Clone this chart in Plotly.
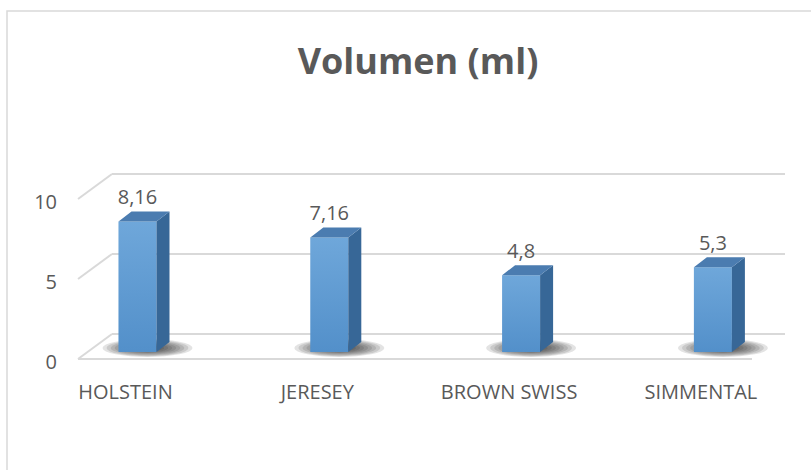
import plotly.graph_objects as go

# ---------------- data ----------------
categories = ["HOLSTEIN", "JERESEY", "BROWN SWISS", "SIMMENTAL"]
volumes = [8.16, 7.16, 4.8, 5.3]
value_labels = ["8,16", "7,16", "4,8", "5,3"]
y_ticks = [0, 5, 10]
title_text = "Volumen (ml)"

# ---------------- style / geometry constants (pixels) ----------------
W, H = 811, 470
L, R, T, B = 60, 0, 100, 50
CAT_PX0, CAT_STEP = 137.5, 191.8     # pixel of first bar centre, pixel per category
ZERO_PX, PX_PER_UNIT = 352, 16.0     # pixel of value 0 on bar plane
BAR_W_PX = 38
SIDE_DX, SIDE_DY = 13, 10            # bar depth (px)
BACK_DY = 18                         # bar plane -> back wall (px, upward)
FRONT_DY = 7                         # bar plane -> front edge (px, downward)
LABEL_SHIFT_PX = 12
TEXT = "#595959"
GRID = "#D9D9D9"
FONT = "Open Sans"

plot_w = W - L - R
plot_h = H - T - B


def px_x(p):
    return (p - CAT_PX0) / CAT_STEP


def px_y(p):
    return (ZERO_PX - p) / PX_PER_UNIT


def paper_x(p):
    return (p - L) / plot_w


def paper_y(p):
    return (H - B - p) / plot_h


x_range = [px_x(L), px_x(W - R)]
y_range = [px_y(H - B), px_y(T)]

dxu = lambda px: px / CAT_STEP
dyu = lambda px: px / PX_PER_UNIT

idx = list(range(len(categories)))
bw = dxu(BAR_W_PX)

shapes = []

# chart border
shapes.append(dict(type="rect", xref="paper", yref="paper",
                   x0=paper_x(7), x1=paper_x(840), y0=paper_y(490), y1=paper_y(11),
                   line=dict(color=GRID, width=1.5), fillcolor="rgba(0,0,0,0)", layer="below"))

# ---- walls / gridlines (from tick values) ----
back_x0, back_x1 = px_x(112), px_x(785)
front_x0, front_x1 = px_x(78), px_x(752)
for v in y_ticks:
    yb = v + dyu(BACK_DY)
    yf = v - dyu(FRONT_DY)
    shapes.append(dict(type="line", xref="x", yref="y", x0=front_x0, y0=yf, x1=back_x0, y1=yb,
                       line=dict(color=GRID, width=2), layer="below"))
    shapes.append(dict(type="line", xref="x", yref="y", x0=back_x0, y0=yb, x1=back_x1, y1=yb,
                       line=dict(color=GRID, width=2), layer="below"))
shapes.append(dict(type="line", xref="x", yref="y", x0=front_x0, y0=-dyu(FRONT_DY),
                   x1=front_x1, y1=-dyu(FRONT_DY), line=dict(color=GRID, width=2), layer="below"))

# ---- soft shadows at bar bases ----
n_layers = 9
for k in range(n_layers):
    s = 1.0 - 0.09 * k
    for i in idx:
        cx = i + dxu(10)
        cy = dyu(4)
        rx = dxu(45) * s
        ry = dyu(9) * s
        shapes.append(dict(type="circle", xref="x", yref="y",
                           x0=cx - rx, x1=cx + rx, y0=cy - ry, y1=cy + ry,
                           fillcolor="rgba(25,25,25,0.12)", line=dict(width=0), layer="below"))

fig = go.Figure()

# ---- bars: front faces ----
fig.add_trace(go.Bar(x=idx, y=volumes, width=bw,
                     marker=dict(color="#5B9BD5", line=dict(width=0)),
                     hoverinfo="skip", showlegend=False))

# subtle vertical shading on the front faces
for i, v in zip(idx, volumes):
    xl, xr = i - bw / 2, i + bw / 2
    fig.add_trace(go.Scatter(x=[xl, xr, xr, xl, xl], y=[0, 0, v, v, 0], mode="lines",
                             fill="toself", line=dict(width=0),
                             fillgradient=dict(type="vertical", start=0, stop=v,
                                               colorscale=[[0, "rgba(20,60,120,0.12)"],
                                                           [1, "rgba(255,255,255,0.12)"]]),
                             hoverinfo="skip", showlegend=False))

# ---- side faces ----
sx, sy = [], []
for i, v in zip(idx, volumes):
    xr = i + bw / 2
    sx += [xr, xr + dxu(SIDE_DX), xr + dxu(SIDE_DX), xr, xr, None]
    sy += [0, dyu(SIDE_DY), v + dyu(SIDE_DY), v, 0, None]
fig.add_trace(go.Scatter(x=sx, y=sy, mode="lines", fill="toself", fillcolor="#376797",
                         line=dict(width=0), hoverinfo="skip", showlegend=False))

# ---- top faces ----
tx, ty = [], []
for i, v in zip(idx, volumes):
    xl, xr = i - bw / 2, i + bw / 2
    tx += [xl, xr, xr + dxu(SIDE_DX), xl + dxu(SIDE_DX), xl, None]
    ty += [v, v, v + dyu(SIDE_DY), v + dyu(SIDE_DY), v, None]
fig.add_trace(go.Scatter(x=tx, y=ty, mode="lines", fill="toself", fillcolor="#4B7CB0",
                         line=dict(width=0), hoverinfo="skip", showlegend=False))

# ---- data labels ----
fig.add_trace(go.Scatter(x=idx, y=[v + dyu(22) for v in volumes], mode="text",
                         text=value_labels, textposition="middle center",
                         textfont=dict(family=FONT, size=20, color=TEXT),
                         hoverinfo="skip", showlegend=False))

# ---- tick-label axes ----
fig.add_trace(go.Scatter(x=[None], y=[None], xaxis="x2", yaxis="y2", showlegend=False))

fig.update_layout(
    width=W, height=H,
    margin=dict(l=L, r=R, t=T, b=B),
    paper_bgcolor="white", plot_bgcolor="white",
    showlegend=False,
    title=dict(text=f"<b>{title_text}</b>", xref="container", yref="container",
               x=418 / W, y=1 - 61 / H, xanchor="center", yanchor="middle",
               font=dict(family=FONT, size=36, color=TEXT)),
    xaxis=dict(range=x_range, showgrid=False, zeroline=False, showline=False,
               showticklabels=False, fixedrange=True),
    yaxis=dict(range=y_range, showgrid=False, zeroline=False, showline=False,
               showticklabels=False, fixedrange=True),
    xaxis2=dict(range=[x_range[0] + dxu(LABEL_SHIFT_PX), x_range[1] + dxu(LABEL_SHIFT_PX)],
                overlaying="x", anchor="free", position=paper_y(378), side="bottom",
                tickvals=idx, ticktext=categories, showgrid=False, zeroline=False,
                showline=False, ticks="",
                tickfont=dict(family=FONT, size=20, color=TEXT)),
    yaxis2=dict(range=[y_range[0] + dyu(10), y_range[1] + dyu(10)],
                overlaying="y", anchor="x", side="left",
                tickvals=y_ticks, ticktext=[str(t) for t in y_ticks],
                showgrid=False, zeroline=False, showline=False, ticks="",
                ticklabelstandoff=2,
                tickfont=dict(family=FONT, size=20, color=TEXT)),
    shapes=shapes,
)

fig.write_html("out.html")
